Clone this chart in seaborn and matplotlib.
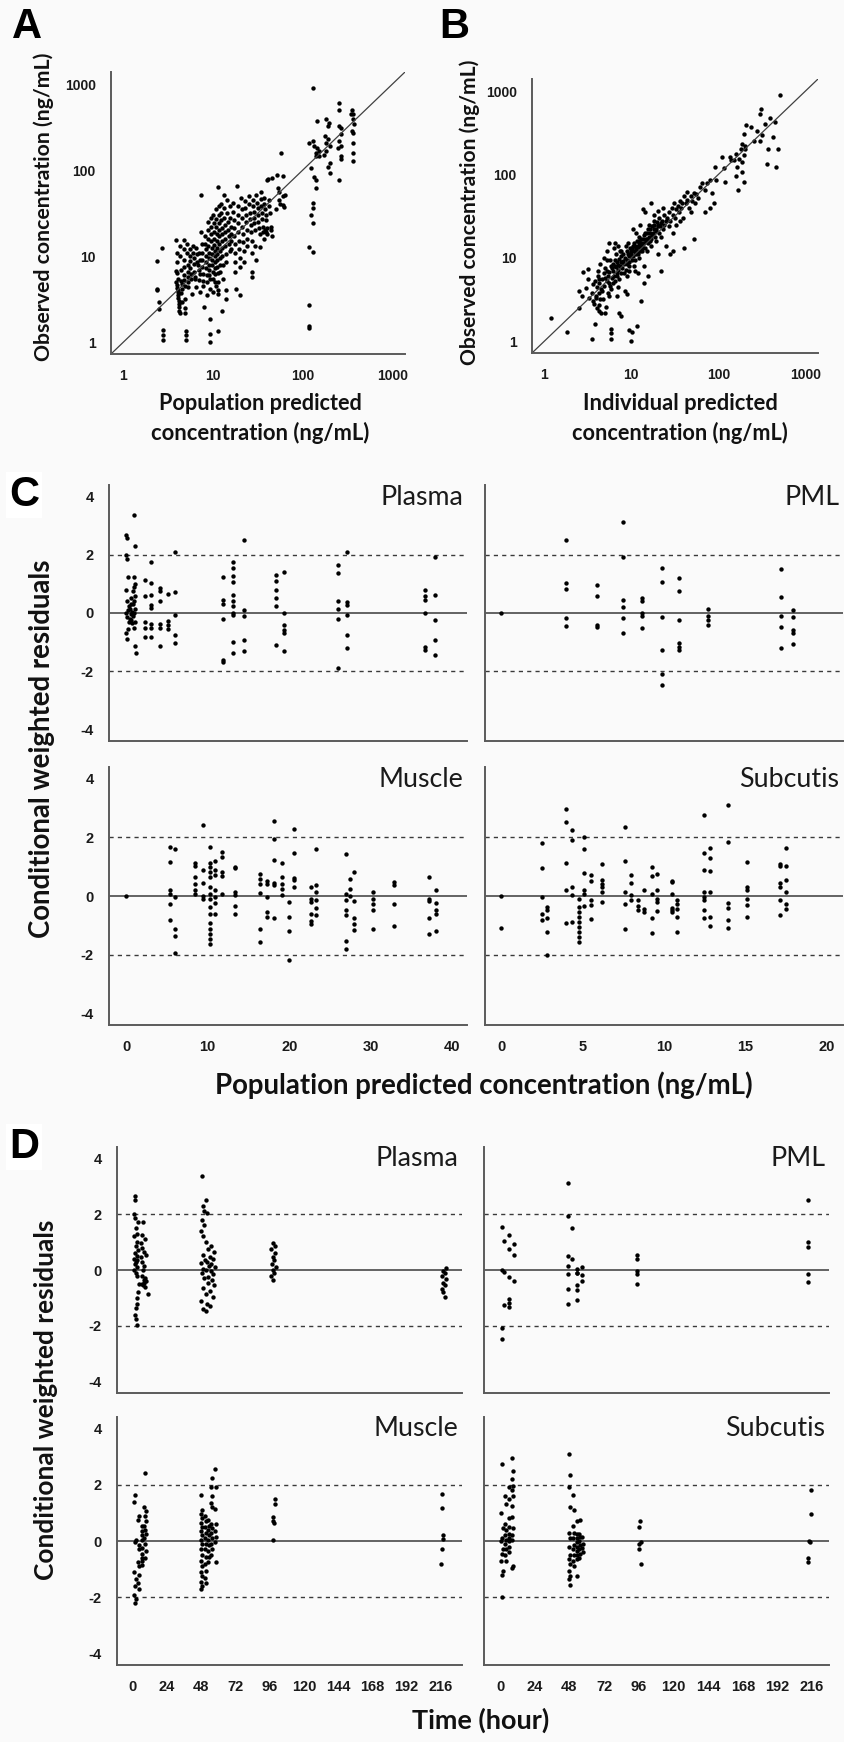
import matplotlib
matplotlib.use("Agg")
import matplotlib.pyplot as plt
import seaborn as sns

# ---------------- Panel A: population predicted vs observed ----------------
a_pred = [2.4, 2.4, 2.4, 2.5, 2.5, 2.7, 2.8, 2.8, 2.8,
          3.9, 3.9, 3.9, 4.0, 4.0, 4.0, 4.0, 4.0, 4.1, 4.1, 4.1, 4.1, 4.1, 4.2, 4.2, 4.2, 4.2, 4.3, 4.3, 4.3, 4.4, 4.4, 4.5, 4.5, 4.4, 4.5,
          4.7, 4.7, 4.8, 4.8, 4.8, 4.8, 4.9, 4.9, 4.9, 4.9, 5.0, 5.0, 5.0, 5.1, 5.1, 5.2, 5.2, 5.3, 5.3, 5.3,
          5.5, 5.5, 5.6, 5.6, 5.7, 5.7, 5.8, 6.0, 6.0, 6.1, 6.1, 6.2, 6.3, 6.3, 6.5, 6.5, 6.6, 6.7, 6.8, 6.9, 7.0, 7.0, 7.1, 7.2, 7.2,
          7.4, 7.5, 7.5, 7.6, 7.6, 7.7, 7.7, 7.8, 7.9, 8.1, 8.2, 8.3, 8.3, 8.4, 8.4, 8.5, 8.5, 8.6, 7.4,
          8.8, 8.8, 8.9, 8.9, 9.0, 9.0, 9.0, 9.1, 9.1, 9.2, 9.2, 9.2, 9.3, 9.3,
          9.5, 9.5, 9.6, 9.6, 9.7, 9.7, 9.8, 9.8, 9.9, 9.9, 10.0,
          10.1, 10.2, 10.2, 10.3, 10.3, 10.4, 10.4, 10.5, 10.5, 10.6, 10.6, 10.7,
          10.8, 10.9, 10.9, 11.0, 11.0, 11.1, 11.1, 11.2, 11.2, 11.3, 11.3, 11.4, 11.4,
          11.5, 11.6, 11.6, 11.7, 11.7, 11.8, 11.8, 11.9, 12.0, 12.0, 12.1, 11.5,
          12.3, 12.4, 12.4, 12.5, 12.5, 12.6, 12.6, 12.7, 12.8, 12.9, 12.7,
          13.2, 13.3, 13.4, 13.5, 13.5, 13.6, 13.7, 13.8, 13.9, 14.0,
          14.3, 14.5, 14.6, 14.8, 15.0, 15.2, 15.3, 14.0, 15.5, 15.6, 15.7, 15.8, 16.0, 16.0,
          16.5, 16.8, 17, 17, 17.2, 17.4, 17.5, 17.6, 17.8, 18, 18.5, 18.8, 19, 19, 19.2, 19.5, 19.7, 19.8, 19.9, 20,
          20.5, 20.8, 21, 21.2, 21.5, 21.7, 22, 22.3, 22.5, 23, 23.2, 23.5, 23.8, 24, 24,
          25, 25.5, 26, 26, 26.5, 26.5, 27, 27, 27.5, 27.5, 28, 28.2, 28.5, 28.8, 29, 29.2, 29.5, 30,
          30.5, 31, 31.5, 32, 32, 32.5, 33, 33.5, 34, 34, 34.5, 35, 35.5, 36, 36.5, 37, 37, 37.5, 38, 38.5, 39, 39.5,
          40, 41, 42, 42, 43, 44, 44, 45, 40, 38, 39,
          52, 53, 54, 55, 56, 58, 60, 60, 61, 62, 63, 50, 46,
          117, 118, 118, 118, 129, 129, 131, 131, 124, 140, 140, 134, 124, 118, 129, 140, 146, 140, 146, 152, 134, 150, 129,
          180, 190, 178, 190, 200, 180, 174, 200, 190, 200, 180, 195,
          255, 255, 265, 255, 265, 255, 245, 265, 270, 255, 265,
          355, 360, 365, 345, 355, 360, 365, 360, 360, 375]
a_obs = [8.9, 4.2, 4.0, 2.9, 2.45, 12.3, 1.37, 1.05, 1.2,
         15.5, 6.8, 5.0, 11, 8.5, 6.3, 4.6, 4.3, 5.5, 4.0, 3.8, 3.5, 3.3, 3.0, 2.8, 2.6, 2.3, 2.2, 13, 10, 7, 5.2, 4.8, 4.1, 3.7, 2.9,
         15.5, 12, 9, 7.5, 6, 5.3, 4.5, 3.2, 2.5, 2.2, 1.35, 1.2, 1.05, 14, 11, 8, 6.5, 5.8, 5.0, 4.4,
         12, 10, 8.8, 7.2, 6.2, 5.5, 3.6, 13, 11, 9.5, 8.2, 6.6, 5.8, 5.4, 4.4, 12.5, 10.5, 8.5, 7.8, 7.0, 5.3, 11, 9.0, 6.2, 3.8,
         19, 14, 11, 9, 7.5, 6.2, 5.2, 4.5, 2.6, 17, 14, 12, 10, 8.5, 7.2, 6.0, 5.0, 3.5, 52,
         25, 20, 16, 13, 11, 9.5, 8.0, 7.0, 6.0, 5.5, 4.2, 1.85, 1.25, 1.0,
         28, 22, 18, 15, 12.5, 10.5, 9, 7.8, 6.5, 5.5, 3.8,
         30, 24, 19, 16, 13.5, 11.5, 10, 8.5, 7.2, 6.2, 5.0, 4.5,
         35, 27, 22, 18, 15, 12.5, 10.5, 9, 7.5, 6.3, 5.0, 4.0, 3.6,
         63, 38, 30, 24, 20, 17, 14, 11.5, 9.5, 8, 6.5, 1.35,
         40, 32, 26, 21, 18, 15, 12.5, 10, 8, 5.5, 2.3,
         52, 36, 28, 23, 19, 16, 13, 10.5, 8.5, 4.0,
         45, 32, 25, 20, 17, 14, 11.5, 3.2, 38, 28, 22, 18, 15, 12,
         42, 33, 26, 21, 17, 14, 11, 8.5, 6.5, 4.2, 66, 38, 30, 24, 19, 15, 12, 9.5, 7.5, 3.5,
         48, 35, 28, 22, 18, 14.5, 11.5, 8.5, 44, 36, 30, 25, 20, 16, 13,
         50, 40, 32, 27, 23, 19, 15, 11, 6.5, 5.7, 45, 38, 33, 28, 24, 20, 13, 9,
         52, 42, 36, 30, 25, 21, 18, 12.8, 55, 46, 38, 32, 27, 22, 19, 16, 48, 40, 35, 30, 26, 21,
         18, 78, 45, 38, 32, 22, 20, 80, 77, 20, 19,
         88, 62, 56, 45, 40, 158, 86, 50, 39, 37, 52, 35, 17,
         2.7, 1.56, 1.47, 12.8, 11.3, 24, 36, 41, 30, 62, 77, 84, 105, 205, 215, 158, 180, 145, 370, 145, 190, 165, 910,
         390, 323, 247, 227, 190, 165, 150, 120, 110, 92, 205, 350,
         605, 505, 310, 323, 260, 217, 180, 145, 135, 77, 190,
         505, 445, 390, 445, 282, 270, 205, 158, 126, 342]

# ---------------- Panel B: individual predicted vs observed ----------------
b_ipred = [1.2, 1.8, 2.5, 2.5, 2.7, 2.8, 3.0, 3.2, 3.2, 3.3,
           3.5, 3.5, 3.6, 3.7, 3.8, 3.8, 3.9, 4.0, 4.0, 4.1, 4.2, 4.2, 4.3, 4.4, 4.5, 4.5, 3.6, 3.9, 4.1, 4.3,
           4.6, 4.7, 4.8, 4.9, 5.0, 5.1, 5.2, 5.3, 5.4, 5.5, 5.6, 5.7, 5.8, 5.9, 6.0, 4.8, 5.2, 5.6, 5.9, 5.9, 5.0, 5.4, 5.8,
           6.1, 6.2, 6.3, 6.4, 6.5, 6.6, 6.7, 6.8, 6.9, 7.0, 7.1, 7.2, 7.3, 7.4, 7.5, 7.6, 7.7, 7.8, 7.9, 8.0, 6.4, 6.8, 7.2, 7.6, 7.0, 6.3,
           8.2, 8.4, 8.6, 8.8, 9.0, 9.2, 9.4, 9.6, 9.8, 10, 8.3, 8.7, 9.1, 9.5, 9.9, 8.5, 9.0, 9.5, 10, 9.3, 8.8,
           10.2, 10.5, 10.8, 11, 11.3, 11.6, 12, 12.3, 12.6, 13, 10.4, 10.9, 11.4, 11.9, 12.4, 12.9, 10.6, 11.2, 11.8, 12.5, 11, 12, 12.8, 10.3, 11.5,
           13.3, 13.6, 14, 14.4, 14.8, 15.2, 15.6, 16, 16.5, 17, 13.5, 14.2, 15, 15.8, 16.6, 14, 15.5, 13.8,
           17.5, 18, 18.5, 19, 19.5, 20, 21, 22, 23, 24, 25, 18, 19, 20, 21, 22, 23, 24, 17, 20, 22, 25,
           26, 27, 28, 29, 30, 31, 32, 33, 34, 35, 36, 37, 38, 39, 40, 27, 30, 33, 36, 28, 30, 40,
           42, 44, 46, 48, 50, 52, 54, 56, 58, 48, 52, 44,
           62, 65, 70, 75, 80, 85, 90, 95, 70, 80,
           8.1, 8.9, 9.7, 10.1, 10.7, 11.1, 11.7, 12.2, 12.7, 13.1, 13.9, 14.6, 15.3, 16.2, 17.2, 18.2, 19.2, 20.5, 21.5, 22.5,
           9.3, 10.4, 11.4, 12.4, 13.4, 14.4, 15.4, 16.4, 17.4, 18.4,
           4.2, 4.6, 5.0, 5.5, 6.0, 6.5, 7.0, 7.5, 5.3, 6.2, 6.8, 7.4, 4.4, 5.7,
           120, 115, 92, 135, 165, 175, 185, 195, 205, 195, 185, 170, 210, 240, 195, 185, 150, 160, 140, 110, 160, 180, 200,
           515, 310, 300, 395, 450, 430, 375, 490, 360, 460, 280, 320, 260, 300, 340]
b_obs = [1.87, 1.3, 4.0, 2.5, 3.5, 6.8, 4.4, 7.3, 5.6, 3.3,
         3.8, 1.05, 4.8, 2.8, 1.6, 5.2, 3.3, 4.5, 2.5, 6.0, 3.8, 2.3, 5.0, 8.5, 4.2, 2.2, 3.0, 3.5, 7.0, 2.7,
         5.5, 3.2, 6.5, 4.6, 7.5, 2.6, 5.2, 9.5, 3.8, 6.8, 15, 4.6, 8.0, 1.4, 5.8, 10, 12, 3.5, 1.25, 1.05, 2.2, 6.0, 4.2,
         7.0, 8.5, 6.0, 9.5, 5.3, 7.8, 11, 6.5, 8.8, 14, 7.2, 9.8, 5.5, 8.0, 10.5, 6.6, 12, 9.0, 7.5, 11, 15, 3.5, 2.2, 2.0, 4.5, 13,
         8.5, 10, 7.2, 12, 9.5, 11, 8.0, 13, 10.5, 12, 6.5, 14, 15, 9.0, 11.5, 4.0, 3.7, 1.35, 1.0, 7.0, 6.0,
         13, 10.5, 15, 12, 11, 16, 13.5, 18, 12, 15, 22, 9.5, 20, 14, 10, 17, 8, 13, 11, 25, 7, 6.5, 3.0, 1.3, 1.5,
         14, 17, 19, 13, 16, 20, 15, 18, 22, 17, 38, 35, 12, 25, 14, 8, 6, 5,
         20, 25, 18, 22, 27, 24, 30, 26, 22, 33, 28, 33, 16, 36, 20, 18, 40, 25, 45, 11, 7, 14,
         30, 35, 28, 40, 33, 45, 30, 38, 42, 35, 48, 40, 45, 30, 55, 24, 20, 25, 28, 11, 12, 13,
         45, 50, 40, 55, 48, 60, 45, 58, 52, 35, 17, 62,
         70, 80, 65, 80, 85, 60, 45, 85, 35, 40,
         9.2, 8.5, 11, 9.5, 12, 14, 12, 15, 14, 13, 15, 17, 17, 20, 19, 22, 21, 25, 24, 28,
         10.5, 14, 11.5, 16, 12, 20, 22, 16, 24, 28,
         5.5, 4.0, 5.8, 5.0, 7.5, 8.0, 8.2, 9.0, 7.0, 5.0, 6.0, 12, 3.2, 9.5,
         82, 118, 124, 160, 123, 155, 108, 82, 205, 170, 235, 65, 390, 370, 305, 140, 150, 175, 150, 160, 95, 200, 220,
         890, 610, 530, 475, 430, 280, 200, 200, 135, 123, 330, 300, 250, 250, 400]

# ---------------- Panel C: CWRES vs population predicted ----------------
c_plasma_pred = [0.0, 0.1, 0.0, 0.1, 0.2, 0.0, 0.1, 0.3, 0.2, 0.0, 0.1, 0.3, 0.2, 0.0, 0.1,
                 0.6, 0.6, 0.5, 0.7, 0.6, 0.5, 0.7, 0.6,
                 1.0, 1.1, 1.0, 1.1, 1.0, 0.9, 1.1, 1.0, 0.9, 1.1, 1.0, 0.9, 1.1, 1.0, 1.1, 1.2,
                 2.3, 2.3, 2.3, 2.3, 2.3,
                 3.1, 3.1, 3.1, 3.1, 3.1, 3.1, 3.1, 3.1,
                 4.1, 4.1, 4.1, 4.1, 4.1, 4.1,
                 5.1, 5.1, 5.1, 5.1,
                 6.0, 6.0, 6.0, 6.0, 6.0,
                 11.9, 11.9, 11.9, 11.9, 11.9, 11.9,
                 13.1, 13.1, 13.1, 13.1, 13.1, 13.1, 13.1, 13.1, 13.1, 13.1, 13.1,
                 14.4, 14.4, 14.4, 14.4, 14.4,
                 18.4, 18.4, 18.4, 18.4, 18.4, 18.4,
                 19.4, 19.4, 19.4, 19.4, 19.4, 19.4,
                 26.0, 26.0, 26.0, 26.0, 26.0, 26.0,
                 27.1, 27.1, 27.1, 27.1, 27.1, 27.1,
                 36.6, 36.6, 36.6, 36.6, 36.6, 36.6,
                 37.9, 37.9, 37.9, 37.9, 37.9]
c_plasma_cwres = [2.68, 2.57, 2.0, 1.85, 1.25, 0.8, 0.4, 0.25, 0.1, 0.0, -0.15, -0.3, -0.55, -0.7, -0.9,
                  0.5, 0.3, 0.15, 0.05, -0.05, -0.2, -0.35, -0.25,
                  3.37, 2.3, 1.25, 1.0, 0.9, 0.75, 0.6, 0.4, 0.3, 0.15, 0.0, -0.1, -0.3, -0.5, -1.15, -1.37,
                  1.14, 0.57, -0.3, -0.5, -0.82,
                  1.74, 1.03, 0.63, 0.29, 0.17, -0.37, -0.51, -0.82,
                  0.86, 0.74, 0.4, -0.37, -0.51, -1.14,
                  0.66, -0.29, -0.4, -0.55,
                  2.08, 0.71, -0.06, -0.74, -1.03,
                  1.23, 0.46, 0.32, -0.2, -1.6, -1.69,
                  1.77, 1.54, 1.26, 1.05, 0.63, 0.4, 0.23, 0.0, -0.06, -1.0, -1.37,
                  2.51, 0.09, -0.09, -0.94, -1.31,
                  1.31, 1.09, 0.8, 0.51, 0.23, -1.09,
                  1.4, 0.0, -0.4, -0.57, -0.69, -1.31,
                  1.66, 1.39, 0.4, 0.14, -0.2, -1.89,
                  2.11, 0.37, 0.29, -0.06, -0.74, -1.2,
                  0.8, 0.57, 0.46, 0.0, -1.17, -1.28,
                  1.94, 0.63, -0.23, -0.94, -1.46]

c_pml_pred = [0.0,
              3.95, 3.95, 3.95, 3.95, 3.95,
              5.9, 5.9, 5.9, 5.9,
              7.5, 7.5, 7.5, 7.5, 7.5, 7.5,
              8.65, 8.65, 8.65, 8.65, 8.65,
              9.9, 9.9, 9.9, 9.9, 9.9, 9.9,
              10.9, 10.9, 10.9, 10.9, 10.9, 10.9,
              12.7, 12.7, 12.7, 12.7,
              17.2, 17.2, 17.2, 17.2, 17.2,
              17.95, 17.95, 17.95, 17.95, 17.95]
c_pml_cwres = [0.0,
               2.51, 1.03, 0.82, -0.17, -0.46,
               0.97, 0.57, -0.4, -0.48,
               3.12, 1.94, 0.46, 0.2, -0.17, -0.69,
               0.51, 0.4, 0.0, -0.11, -0.51,
               1.54, 1.05, -0.14, -1.26, -2.11, -2.49,
               1.2, 0.77, -0.23, -1.03, -1.17, -1.28,
               0.14, -0.09, -0.23, -0.4,
               1.51, 0.55, -0.09, -0.48, -1.2,
               0.09, -0.14, -0.6, -0.69, -1.05]

c_muscle_pred = [0.0,
                 5.37, 5.37, 5.37, 5.37, 5.37, 5.37,
                 6.0, 6.0, 6.0, 6.0, 6.0,
                 8.45, 8.45, 8.45, 8.45, 8.45, 8.45,
                 9.4, 9.4, 9.4, 9.4, 9.4,
                 10.3, 10.3, 10.3, 10.3, 10.3, 10.3, 10.3, 10.3, 10.3, 10.3, 10.3, 10.3, 10.3, 10.3, 10.3,
                 10.95, 10.95, 10.95, 10.95, 10.95, 10.95, 10.95,
                 11.8, 11.8, 11.8, 11.8, 11.8,
                 13.4, 13.4, 13.4, 13.4, 13.4, 13.4,
                 16.4, 16.4, 16.4, 16.4, 16.4, 16.4,
                 17.3, 17.3, 17.3, 17.3, 17.3,
                 18.1, 18.1, 18.1, 18.1, 18.1, 18.1,
                 19.1, 19.1, 19.1, 19.1, 19.1,
                 20.0, 20.0, 20.0, 20.0,
                 20.6, 20.6, 20.6, 20.6, 20.6,
                 22.7, 22.7, 22.7, 22.7, 22.7, 22.7,
                 23.3, 23.3, 23.3, 23.3, 23.3, 23.3,
                 27.0, 27.0, 27.0, 27.0, 27.0, 27.0, 27.0,
                 27.4, 27.4, 27.4,
                 27.9, 27.9, 27.9, 27.9, 27.9,
                 30.3, 30.3, 30.3, 30.3, 30.3,
                 32.9, 32.9, 32.9, 32.9,
                 37.2, 37.2, 37.2, 37.2, 37.2,
                 38.0, 38.0, 38.0, 38.0, 38.0]
c_muscle_cwres = [0.0,
                  1.68, 1.17, 0.22, 0.08, -0.26, -0.83,
                  1.62, -0.03, -1.12, -1.38, -1.95,
                  1.13, 1.02, 0.65, 0.4, 0.19, 0.08,
                  2.42, 0.9, 0.45, 0.0, -0.09,
                  1.66, 1.13, 1.0, 0.82, 0.65, 0.31, 0.08, -0.09, -0.38, -0.6, -0.93, -1.12, -1.29, -1.46, -1.63,
                  1.2, 0.88, 0.71, 0.19, -0.03, -0.24, -0.63,
                  1.51, 1.34, 0.82, 0.67, 0.06,
                  1.0, 0.94, 0.14, 0.02, -0.35, -0.63,
                  0.74, 0.59, 0.4, 0.1, -1.12, -1.58,
                  0.51, 0.4, -0.03, -0.55, -0.7,
                  2.57, 1.93, 1.22, 0.45, 0.37, -0.74,
                  1.11, 0.65, 0.42, 0.25, 0.02,
                  -0.21, -0.72, -1.2, -2.18,
                  2.27, 1.45, 0.63, 0.54, 0.29,
                  0.31, -0.09, -0.21, -0.6, -0.86, -0.95,
                  1.62, 0.37, 0.14, -0.15, -0.4, -0.66,
                  1.43, 0.08, -0.15, -0.49, -0.66, -1.52, -1.81,
                  0.59, 0.25, 0.0,
                  0.82, -0.17, -0.74, -0.97, -1.15,
                  0.14, -0.09, -0.26, -0.49, -1.12,
                  0.48, 0.37, -0.26, -1.04,
                  0.65, -0.09, -0.17, -0.75, -1.31,
                  0.22, -0.24, -0.49, -0.6, -1.18]

c_subcutis_pred = [0.0, 0.0,
                   2.5, 2.5, 2.5, 2.5, 2.5,
                   2.8, 2.8, 2.8, 2.8, 2.8,
                   3.95, 3.95, 3.95, 3.95, 3.95,
                   4.35, 4.35, 4.35, 4.35, 4.35,
                   5.07, 5.07, 5.07, 5.07, 5.07, 5.07,
                   4.8, 4.8, 4.8, 4.8, 4.8, 4.8, 4.8, 4.8, 4.8,
                   5.5, 5.5, 5.5, 5.5, 5.5,
                   6.2, 6.2, 6.2, 6.2, 6.2, 6.2,
                   7.6, 7.6, 7.6, 7.6, 7.6,
                   8.0, 8.0, 8.0, 8.0,
                   8.4, 8.4, 8.4,
                   8.8, 8.8, 8.8,
                   9.25, 9.25, 9.25, 9.25, 9.25,
                   9.6, 9.6, 9.6, 9.6, 9.6,
                   10.5, 10.5, 10.5, 10.5, 10.5, 10.5,
                   10.8, 10.8, 10.8, 10.8, 10.8,
                   12.45, 12.45, 12.45, 12.45, 12.45, 12.45, 12.45, 12.45,
                   12.85, 12.85, 12.85, 12.85, 12.85, 12.85,
                   13.95, 13.95, 13.95, 13.95, 13.95, 13.95,
                   15.1, 15.1, 15.1, 15.1, 15.1, 15.1,
                   17.1, 17.1, 17.1, 17.1, 17.1, 17.1,
                   17.5, 17.5, 17.5, 17.5, 17.5, 17.5]
c_subcutis_cwres = [0.0, -1.09,
                    1.82, 0.97, -0.03, -0.61, -0.81,
                    -0.38, -0.49, -0.74, -1.23, -2.0,
                    2.96, 2.51, 1.11, 0.19, -0.93,
                    2.25, 1.91, 0.31, 0.02, -0.89,
                    2.0, 1.62, 0.77, 0.19, 0.08, -0.35,
                    -0.09, -0.38, -0.55, -0.72, -0.89, -1.06, -1.23, -1.41, -1.58,
                    0.71, 0.51, -0.15, -0.32, -0.78,
                    1.09, 0.54, 0.4, 0.29, 0.14, -0.21,
                    2.34, 1.2, 0.14, -0.26, -1.14,
                    0.71, 0.45, 0.02, -0.13,
                    -0.15, -0.35, -0.49,
                    0.19, -0.43, -0.55,
                    0.99, 0.67, 0.08, -0.75, -1.27,
                    0.74, 0.22, -0.09, -0.21, -0.51,
                    0.51, 0.48, 0.08, -0.4, -0.49, -0.55,
                    -0.15, -0.26, -0.43, -0.7, -1.23,
                    2.77, 1.45, 0.9, 0.14, -0.03, -0.15, -0.47, -0.74,
                    1.65, 1.28, 0.86, 0.14, -0.7, -1.03,
                    3.11, 1.85, -0.24, -0.4, -0.81, -1.09,
                    1.17, 0.29, 0.19, -0.09, -0.32, -0.7,
                    1.09, 1.02, 0.45, 0.31, -0.13, -0.66,
                    1.65, 1.02, 0.56, 0.14, -0.26, -0.43]

# ---------------- Panel D: CWRES vs time ----------------
d_plasma_time = [1.5, 1.5, 1.0, 1.5, 3.5, 2.0, 2.5, 1.0, 3.0, 2.0, 3.5, 1.5, 2.5, 1.0, 3.0, 2.0, 1.5, 2.5, 1.0, 2.0, 3.0, 4.0, 3.5, 3.0, 2.5, 2.0, 1.5, 2.0, 2.5,
                 7.0, 6.0, 8.5, 5.5, 6.5, 7.5, 9.0, 5.5, 6.0, 8.0, 7.0, 6.5, 8.5, 7.5, 9.0, 8.0, 6.0, 7.0, 8.5, 10.5,
                 48.5, 51, 49, 50, 52, 48.5, 50, 48, 49.5, 51, 55, 53, 57, 49, 54, 56, 50.5, 52, 48, 55, 53.5, 57.5, 49.5, 51, 54.5, 48.5, 56, 52.5, 50, 55.5, 53, 57, 49, 54, 51.5, 56.5, 48, 52, 54, 49.5, 51,
                 98, 99.5, 97, 100, 98.5, 99, 97.5, 100.5, 98, 99, 97, 98.5,
                 220, 218, 219, 217, 220, 218, 219, 217, 218, 219]
d_plasma_cwres = [2.65, 2.5, 2.0, 1.85, 1.7, 1.5, 1.3, 1.2, 1.0, 0.85, 0.7, 0.6, 0.5, 0.4, 0.35, 0.3, 0.2, 0.1, 0.0, -0.1, -0.2, -0.5, -0.8, -1.0, -1.2, -1.35, -1.6, -1.75, -1.95,
                  1.7, 1.25, 1.1, 0.95, 0.8, 0.65, 0.55, 0.45, 0.3, 0.15, 0.0, -0.2, -0.3, -0.35, -0.4, -0.45, -0.5, -0.55, -0.6, -0.85,
                  3.37, 2.5, 2.3, 2.1, 2.05, 1.8, 1.6, 1.4, 1.2, 1.0, 0.85, 0.75, 0.65, 0.55, 0.45, 0.4, 0.35, 0.3, 0.25, 0.2, 0.15, 0.1, 0.05, 0.0, -0.05, -0.1, -0.15, -0.25, -0.3, -0.35, -0.45, -0.55, -0.65, -0.75, -0.85, -0.95, -1.1, -1.2, -1.3, -1.4, -1.45,
                  0.95, 0.85, 0.75, 0.6, 0.45, 0.35, 0.2, 0.1, 0.0, -0.1, -0.2, -0.35,
                  0.06, -0.05, -0.12, -0.2, -0.32, -0.45, -0.55, -0.68, -0.8, -0.95]

d_pml_time = [1.4, 1.4, 1.4, 1.4, 2.5, 2.5, 2.5, 6, 6, 6, 6, 6, 6, 10, 10, 10,
              47, 47, 47, 47, 47, 47, 47, 49.5, 49.5, 53.3, 53.3, 53.3, 53.3, 53.3, 53.3, 57, 57, 57,
              95, 95, 95, 95, 95, 213, 213, 213, 213, 213]
d_pml_cwres = [1.55, 0.0, -2.06, -2.47, 1.04, -0.08, -1.24, 1.24, 0.76, -0.24, -1.02, -1.18, -1.32, 0.94, 0.55, -0.41,
               3.1, 1.92, 0.51, 0.15, -0.15, -0.67, -1.2, 1.49, 0.41, 0.04, -0.12, -0.53, -0.71, -1.06, -0.09, 0.12, -0.18, -0.41,
               0.53, 0.39, -0.04, -0.15, -0.51, 2.51, 1.0, 0.82, -0.14, -0.44]

d_muscle_time = [1.5, 1.0, 2.0, 1.5, 1.0, 2.0, 1.5, 1.0, 2.0, 1.5,
                 4.0, 3.5, 4.5, 4.0, 3.5, 4.5, 4.0, 3.5, 4.0,
                 6.0, 6.5, 6.0, 6.5, 6.0, 6.5, 6.0, 6.5, 6.0,
                 8.5, 8.0, 9.0, 8.5, 9.0, 8.0, 8.5, 9.0, 8.0, 8.5, 9.0, 8.5,
                 48.0, 48.5, 48.0, 48.5, 48.0, 48.5, 48.0, 48.5, 48.0, 48.5, 48.0, 48.5, 48.0, 48.5, 48.0, 48.5, 48.0, 48.5, 48.0,
                 50.5, 51.0, 50.5, 51.0, 50.5, 51.0, 50.5, 51.0, 50.5, 51.0, 50.5, 51.0,
                 53.0, 53.5, 53.0, 53.5, 53.0, 53.5, 53.0, 53.5, 53.0,
                 55.5, 55.0, 55.5, 55.0, 55.5, 55.0, 55.5, 55.0, 55.5, 55.0, 55.5, 55.0,
                 57.5, 58.0, 57.5, 58.0, 57.5, 58.0, 57.5, 58.0,
                 99.5, 100.0, 98.5, 98.0, 99.0, 98.0,
                 217.0, 217.0, 218.0, 217.5, 217.0, 216.5]
d_muscle_cwres = [1.63, 1.4, 0.05, -0.05, -1.1, -1.35, -1.6, -1.9, -2.05, -2.2,
                  0.9, 0.75, -0.15, -0.3, -0.75, -0.9, -1.2, -1.5, -1.7,
                  0.55, 0.35, 0.2, 0.05, -0.25, -0.45, -0.6, -0.7, -0.85,
                  2.4, 1.2, 1.05, 0.9, 0.7, 0.55, 0.4, 0.25, 0.1, -0.1, -0.35, -0.6,
                  1.65, 1.1, 0.95, 0.8, 0.65, 0.5, 0.35, 0.2, 0.05, -0.1, -0.3, -0.5, -0.7, -0.9, -1.1, -1.25, -1.45, -1.6, -1.7,
                  0.9, 0.7, 0.5, 0.3, 0.1, -0.1, -0.3, -0.55, -0.8, -1.05, -1.3, -1.5,
                  0.75, 0.55, 0.4, 0.2, 0.05, -0.15, -0.35, -0.55, -0.75,
                  2.25, 1.9, 1.6, 1.35, 1.2, 0.6, 0.45, 0.3, 0.1, -0.1, -0.3, -0.5,
                  2.55, 1.9, 1.15, 0.6, 0.35, 0.15, -0.05, -0.75,
                  1.5, 1.3, 0.85, 0.7, 0.65, 0.05,
                  1.68, 1.18, 0.21, 0.06, -0.27, -0.82]

d_subcutis_time = [1.5, 1.0, 2.0, 1.5, 1.0, 2.0, 1.5, 1.0, 2.0, 1.5, 1.5,
                   3.5, 4.0, 3.5, 4.0, 3.5, 4.0, 3.5, 4.0, 3.5, 4.0,
                   6.0, 6.5, 6.0, 6.5, 6.0, 6.5, 6.0, 6.5, 6.0,
                   8.5, 9.0, 8.5, 9.0, 8.5, 9.0, 8.5, 8.0, 9.0, 8.5, 8.0, 9.0, 8.5,
                   48.0, 48.5, 48.0, 48.5, 48.0, 48.5, 48.0, 48.5, 48.0, 48.5, 48.0, 48.5, 48.0, 48.5,
                   50.5, 51.0, 50.5, 51.0, 50.5, 51.0, 50.5, 51.0, 50.5, 51.0,
                   53.0, 53.5, 53.0, 53.5, 53.0, 53.5, 53.0, 53.5, 53.0,
                   55.5, 55.0, 55.5, 55.0, 55.5, 55.0, 55.5, 55.0,
                   57.0, 57.5, 57.0, 57.5,
                   97.0, 96.0, 97.5, 96.0, 96.5, 97.5,
                   215.0, 215.0, 214.0, 214.5, 213.5, 213.5]
d_subcutis_cwres = [2.75, 1.0, 0.45, 0.1, 0.0, -0.3, -0.45, -0.7, -1.05, -1.2, -2.0,
                    1.6, 1.3, 0.6, 0.4, 0.2, 0.05, -0.1, -0.3, -0.5, -0.7,
                    1.9, 1.5, 0.8, 0.5, 0.25, 0.1, 0.0, -0.2, -0.4,
                    2.95, 2.5, 2.2, 1.95, 1.8, 1.6, 1.25, 0.85, 0.45, 0.2, 0.05, -0.9, -0.95,
                    3.1, 2.33, 1.9, 1.2, 0.3, 0.1, -0.2, -0.5, -0.65, -0.8, -1.05, -1.25, -1.35, -1.55,
                    1.65, 1.1, 0.55, 0.3, 0.1, -0.15, -0.3, -0.5, -0.7, -0.9,
                    0.7, 0.25, 0.1, -0.05, -0.2, -0.35, -0.5, -0.65, -1.25,
                    0.75, 0.25, 0.15, 0.0, -0.15, -0.3, -0.45, -0.6,
                    0.15, -0.1, -0.25, -0.4,
                    0.7, 0.5, -0.05, -0.1, -0.3, -0.8,
                    1.8, 0.95, 0.0, -0.05, -0.6, -0.75]

log_ticks = [1, 10, 100, 1000]
log_tick_labels = ["1", "10", "100", "1000"]
cwres_ticks = [-4, -2, 0, 2, 4]
c_left_ticks = [0, 10, 20, 30, 40]
c_right_ticks = [0, 5, 10, 15, 20]
time_ticks = [0, 24, 48, 72, 96, 120, 144, 168, 192, 216]

# ---------------- figure ----------------
sns.set_style("white")
plt.rcParams["font.family"] = ["Liberation Sans", "DejaVu Sans"]
plt.rcParams["font.weight"] = "bold"
plt.rcParams["axes.unicode_minus"] = False

W, H = 844, 1742
BG = "#fafafa"
fig = plt.figure(figsize=(W / 100, H / 100), dpi=100, facecolor=BG)
renderer = fig.canvas.get_renderer()

LABEL_FONT = ["Lato", "DejaVu Sans"]
SPINE = "#5a5a5a"
DOT = 10


def px_axes(l, t, r, b):
    return fig.add_axes([l / W, 1 - b / H, (r - l) / W, (b - t) / H])


def ftext(x, y, s, **kw):
    return fig.text(x / W, 1 - y / H, s, **kw)


def fit_text(x, y, s, target, rotation=0, weight="bold"):
    """Place text centred at pixel (x, y) and scale it to span `target` pixels."""
    t = ftext(x, y, s, rotation=rotation, ha="center", va="center",
              fontsize=14, family=LABEL_FONT, fontweight=weight, color="#111111")
    bb = t.get_window_extent(renderer=renderer)
    span = bb.height if rotation else bb.width
    t.set_fontsize(14 * target / span)
    return t


def style(ax, labelsize=10):
    ax.set_facecolor("none")
    for s in ["top", "right"]:
        ax.spines[s].set_visible(False)
    for s in ["left", "bottom"]:
        ax.spines[s].set_color(SPINE)
        ax.spines[s].set_linewidth(1.4)
    ax.tick_params(length=2, width=0.8, color="#b0b0b0", direction="out",
                   pad=9, labelsize=labelsize, labelcolor="#1a1a1a")


def loglog_panel(ax, x, y, lim):
    sns.scatterplot(x=x, y=y, ax=ax, color="black", s=DOT, linewidth=0, legend=False)
    ax.set_xscale("log")
    ax.set_yscale("log")
    ax.set_xlim(*lim)
    ax.set_ylim(*lim)
    ax.plot(lim, lim, color="#404040", lw=0.9, zorder=1)
    ax.set_xticks(log_ticks)
    ax.set_xticklabels(log_tick_labels)
    ax.set_yticks(log_ticks)
    ax.set_yticklabels(log_tick_labels)
    ax.minorticks_off()
    ax.set_xlabel("")
    ax.set_ylabel("")
    style(ax)


TITLE_SIZE = 17


def resid_panel(ax, x, y, xlim, xticks, title, show_x, show_y, ylim=4.4, tsize=10.5):
    ax.axhline(0, color="#3a3a3a", lw=1.1, zorder=1)
    ax.axhline(2, color="#3a3a3a", lw=1.0, ls=(0, (3, 3)), zorder=1)
    ax.axhline(-2, color="#3a3a3a", lw=1.0, ls=(0, (3, 3)), zorder=1)
    sns.scatterplot(x=x, y=y, ax=ax, color="black", s=DOT, linewidth=0, legend=False, zorder=3)
    ax.set_xlim(*xlim)
    ax.set_ylim(-ylim, ylim)
    ax.set_xticks(xticks)
    ax.set_yticks(cwres_ticks)
    ax.set_xlabel("")
    ax.set_ylabel("")
    style(ax, labelsize=tsize)
    if not show_x:
        ax.set_xticklabels([])
    if not show_y:
        ax.set_yticklabels([])
    ax.text(0.99, 0.953, title, transform=ax.transAxes, ha="right", va="center",
            fontsize=TITLE_SIZE, family=LABEL_FONT, fontweight="normal", color="#1a1a1a")


# title size fitted so that "Subcutis" spans ~100 px like the reference
_probe = fig.text(0, 0, "Subcutis", fontsize=14, family=LABEL_FONT, fontweight="normal")
TITLE_SIZE = 14 * 100 / _probe.get_window_extent(renderer=renderer).width
_probe.remove()

# Panel A
axA = px_axes(111, 72, 405, 354)
loglog_panel(axA, a_pred, a_obs, (0.73, 1380))
fit_text(44, 207, "Observed concentration (ng/mL)", 310, rotation=90)
fit_text(260, 404, "Population predicted", 204)
fit_text(260, 433, "concentration (ng/mL)", 220)

# Panel B
axB = px_axes(532, 79, 818, 353)
loglog_panel(axB, b_ipred, b_obs, (0.72, 1400))
fit_text(470, 212, "Observed concentration (ng/mL)", 306, rotation=90)
fit_text(680, 404, "Individual predicted", 196)
fit_text(680, 433, "concentration (ng/mL)", 216)

# Panel C
c_lx = (-2.1, 41.8)
c_rx = (-1.0, 21.0)
resid_panel(px_axes(109, 485, 467, 741), c_plasma_pred, c_plasma_cwres, c_lx, c_left_ticks, "Plasma", False, True)
resid_panel(px_axes(485, 485, 843, 741), c_pml_pred, c_pml_cwres, c_rx, c_right_ticks, "PML", False, False)
resid_panel(px_axes(109, 767, 467, 1025), c_muscle_pred, c_muscle_cwres, c_lx, c_left_ticks, "Muscle", True, True)
resid_panel(px_axes(485, 767, 843, 1025), c_subcutis_pred, c_subcutis_cwres, c_rx, c_right_ticks, "Subcutis", True, False)
fit_text(42, 749, "Conditional weighted residuals", 382, rotation=90)
fit_text(484, 1085, "Population predicted concentration (ng/mL)", 542)

# Panel D
d_lx = (-11.2, 231)
d_rx = (-11.1, 227.7)
resid_panel(px_axes(117, 1147, 462, 1393), d_plasma_time, d_plasma_cwres, d_lx, time_ticks, "Plasma", False, True)
resid_panel(px_axes(484, 1147, 829, 1393), d_pml_time, d_pml_cwres, d_rx, time_ticks, "PML", False, False)
resid_panel(px_axes(117, 1417, 462, 1665), d_muscle_time, d_muscle_cwres, d_lx, time_ticks, "Muscle", True, True)
resid_panel(px_axes(484, 1417, 829, 1665), d_subcutis_time, d_subcutis_cwres, d_rx, time_ticks, "Subcutis", True, False)
fit_text(46, 1400, "Conditional weighted residuals", 362, rotation=90)
fit_text(481, 1720, "Time (hour)", 138)

# Panel letters (C and D sit on small white patches in the reference)
for letter, x, y, boxed in [("A", 27, 27, False), ("B", 454, 27, False),
                            ("C", 24, 495, True), ("D", 24, 1147, True)]:
    kw = dict(bbox=dict(facecolor="white", edgecolor="none", pad=2)) if boxed else {}
    ftext(x, y, letter, ha="center", va="center", fontsize=30, fontweight="bold",
          family=["Liberation Sans", "DejaVu Sans"], color="#000000", **kw)

fig.savefig("out.png", dpi=100, facecolor=BG)
